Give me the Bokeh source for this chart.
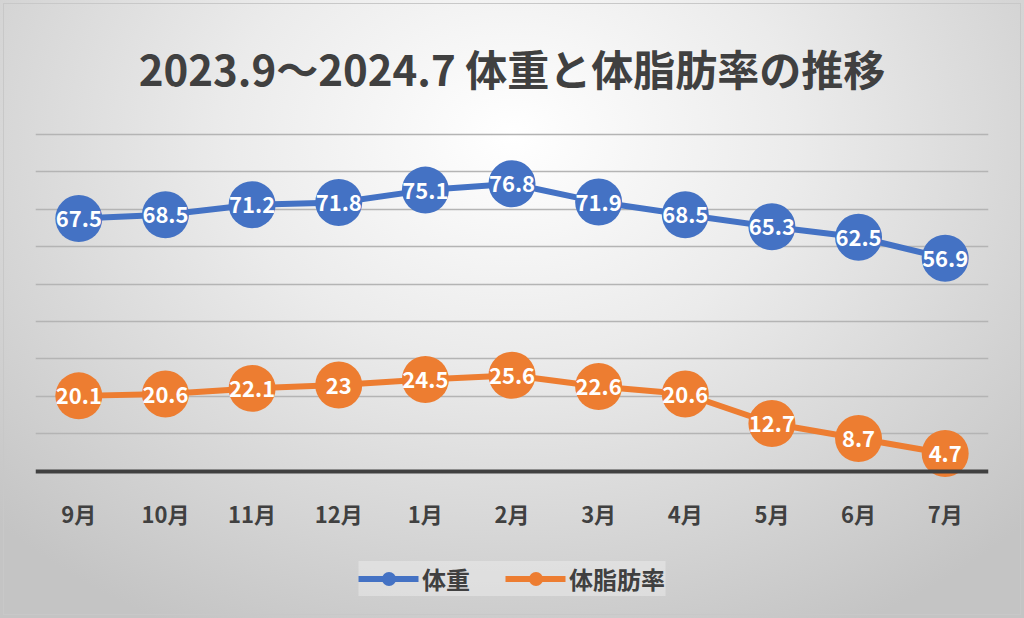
from bokeh.plotting import figure
from bokeh.models import ColumnDataSource, Legend, LegendItem, FixedTicker, Range1d, FactorRange
from bokeh.core.properties import value
from bokeh.embed import file_html
from bokeh.resources import INLINE

# ---- data ----
months = ["9月", "10月", "11月", "12月", "1月", "2月", "3月", "4月", "5月", "6月", "7月"]
weight = [67.5, 68.5, 71.2, 71.8, 75.1, 76.8, 71.9, 68.5, 65.3, 62.5, 56.9]
bodyfat = [20.1, 20.6, 22.1, 23, 24.5, 25.6, 22.6, 20.6, 12.7, 8.7, 4.7]
series_names = ["体重", "体脂肪率"]
title_text = "2023.9～2024.7 体重と体脂肪率の推移"
grid_ticks = [10, 20, 30, 40, 50, 60, 70, 80, 90]

FONT = "Noto Sans CJK JP"
BLUE = "#4472C4"
ORANGE = "#ED7D31"
DARK = "#404040"

src = ColumnDataSource(dict(
    month=months,
    weight=weight,
    bodyfat=bodyfat,
    wlabel=[f"{v:g}" for v in weight],
    flabel=[f"{v:g}" for v in bodyfat],
))

# y range extends below 0 to leave room for the category labels and legend
p = figure(
    x_range=FactorRange(*months), y_range=Range1d(-36.2, 90.5),
    width=1024, height=618, output_backend="svg", toolbar_location=None,
    min_border_left=35, min_border_right=36, min_border_top=132, min_border_bottom=12,
)
p.background_fill_alpha = 0
p.border_fill_alpha = 0
p.outline_line_color = None
p.styles = {
    "background": "radial-gradient(ellipse 70% 90% at 50% 22%, #ffffff 0%, #ebebeb 40%, #c4c4c4 100%)",
    "outline": "1px solid #c8c8c8",
    "outline-offset": "-4px",
}

# title
p.title.text = title_text
p.title.align = "center"
p.title.text_font = FONT
p.title.text_font_size = "42px"
p.title.text_font_style = "bold"
p.title.text_color = DARK
p.title.standoff = 69

# axes / grid
p.yaxis.visible = False
p.xgrid.grid_line_color = None
p.ygrid.ticker = FixedTicker(ticks=grid_ticks)
p.ygrid.grid_line_color = "#b4b4b4"
p.ygrid.grid_line_width = 1.5

ax = p.xaxis[0]
ax.fixed_location = 0
ax.axis_line_color = DARK
ax.axis_line_width = 4
ax.major_tick_line_color = None
ax.minor_tick_line_color = None
ax.major_label_text_font = FONT
ax.major_label_text_font_size = "22px"
ax.major_label_text_font_style = "bold"
ax.major_label_text_color = DARK
ax.major_label_standoff = 20

# series
wl = p.line(x="month", y="weight", source=src, line_width=6, line_color=BLUE, line_cap="round")
ws = p.scatter(x="month", y="weight", source=src, size=47, fill_color=BLUE, line_color=None)
fl = p.line(x="month", y="bodyfat", source=src, line_width=6, line_color=ORANGE, line_cap="round")
fs = p.scatter(x="month", y="bodyfat", source=src, size=47, fill_color=ORANGE, line_color=None)

for col, lab in (("weight", "wlabel"), ("bodyfat", "flabel")):
    p.text(x="month", y=col, text=lab, source=src, text_color="white",
           text_font=value(FONT), text_font_style="bold", text_font_size="22px",
           text_align="center", text_baseline="middle")

legend = Legend(
    items=[LegendItem(label=series_names[0], renderers=[wl, ws]),
           LegendItem(label=series_names[1], renderers=[fl, fs])],
    orientation="horizontal", location="bottom",
    glyph_width=60, glyph_height=35, label_standoff=4, spacing=35, padding=13,
    label_text_font=FONT, label_text_font_size="24px", label_text_font_style="bold",
    label_text_color=DARK, border_line_color=None,
    background_fill_color="#f0f0f0", background_fill_alpha=0.45,
    margin=10,
)
p.add_layout(legend, "center")

open("out.html", "w").write(file_html(p, INLINE))
